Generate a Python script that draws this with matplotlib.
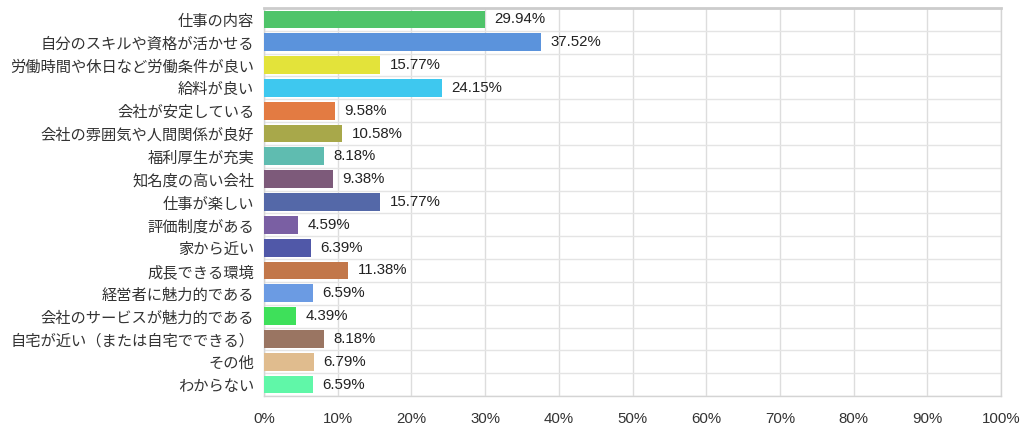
import numpy as np
import matplotlib
matplotlib.use("Agg")
import matplotlib.pyplot as plt
from matplotlib.ticker import MultipleLocator, FuncFormatter

# data
labels = [
    "仕事の内容",
    "自分のスキルや資格が活かせる",
    "労働時間や休日など労働条件が良い",
    "給料が良い",
    "会社が安定している",
    "会社の雰囲気や人間関係が良好",
    "福利厚生が充実",
    "知名度の高い会社",
    "仕事が楽しい",
    "評価制度がある",
    "家から近い",
    "成長できる環境",
    "経営者に魅力的である",
    "会社のサービスが魅力的である",
    "自宅が近い（または自宅でできる）",
    "その他",
    "わからない",
]
values = [29.94, 37.52, 15.77, 24.15, 9.58, 10.58, 8.18, 9.38, 15.77,
          4.59, 6.39, 11.38, 6.59, 4.39, 8.18, 6.79, 6.59]
colors = ["#4fc46a", "#5b93dc", "#e3e33a", "#3ec8ef", "#e37b42", "#a8a84a",
          "#5fbcb0", "#7d5a7a", "#5468a8", "#7a5fa3", "#5058a8", "#c2774a",
          "#6b9be3", "#3ee05a", "#9a7562", "#e0bc8e", "#60f7a8"]

plt.rcParams['font.family'] = ['Noto Sans CJK JP', 'DejaVu Sans']

fig = plt.figure(figsize=(10.24, 4.3), dpi=100)
ax = fig.add_axes([264 / 1024, 1 - 396 / 430, 737 / 1024, 388 / 430])

y = np.arange(len(labels))
ax.barh(y, values, height=0.78, color=colors, zorder=3)

for yi, v in zip(y, values):
    ax.text(v + 1.3, yi, f"{v:.2f}%", va="center", ha="left", fontsize=10.8,
            family="Liberation Sans", color="#222222", zorder=4)

ax.set_xlim(0, 100)
ax.set_ylim(len(labels) - 0.5, -0.5)
ax.set_yticks(y)
ax.set_yticklabels(labels, fontsize=11, color="#333333")
ax.yaxis.set_minor_locator(MultipleLocator(1, offset=0.5))
ax.xaxis.set_major_locator(MultipleLocator(10))
ax.xaxis.set_major_formatter(FuncFormatter(lambda v, p: f"{v:.0f}%"))
for t in ax.get_xticklabels():
    t.set_family("Liberation Sans")
    t.set_fontsize(10.8)
    t.set_color("#333333")

ax.tick_params(axis="both", which="both", length=0)
ax.tick_params(axis="x", pad=11.5)
ax.tick_params(axis="y", pad=7)
ax.grid(axis="x", which="major", color="#dddddd", lw=1, zorder=0)
ax.grid(axis="y", which="minor", color="#e4e4e4", lw=1, zorder=0)

for s in ["left", "right", "bottom"]:
    ax.spines[s].set_color("#d4d4d4")
    ax.spines[s].set_linewidth(1)
ax.spines["top"].set_color("#cccccc")
ax.spines["top"].set_linewidth(2)

fig.savefig("out.png", dpi=100)
